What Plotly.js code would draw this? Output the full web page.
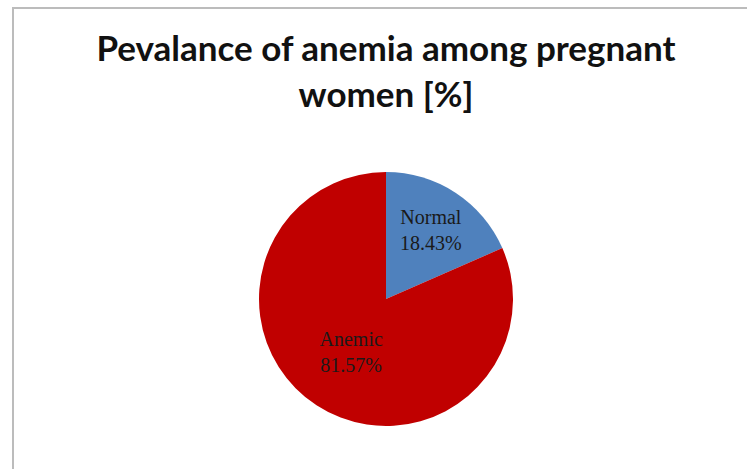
<!DOCTYPE html>
<html>
<head>
<meta charset="utf-8">
<script src="https://cdn.plot.ly/plotly-3.0.1.min.js"></script>
<style>
html,body{margin:0;padding:0;background:#fff;}
#chart{width:747px;height:469px;}
</style>
</head>
<body>
<div id="chart"></div>
<script>
const categories = ["Normal", "Anemic"];
const values = [18.43, 81.57];
const colors = ["#4F81BD", "#C00000"];
const titleText = "Pevalance of anemia among pregnant<br>women [%]";

const W = 747, H = 469;
const cx = 386, cy = 299, r = 127;

const trace = {
  type: "pie",
  labels: categories,
  values: values,
  sort: false,
  direction: "clockwise",
  rotation: 0,
  marker: {colors: colors, line: {width: 0}},
  texttemplate: "%{label}<br>%{percent:.2%}",
  textposition: "inside",
  insidetextorientation: "horizontal",
  textfont: {family: "Liberation Serif, Times New Roman, serif", size: 20, color: "#1a1a1a"},
  hoverinfo: "none",
  domain: {
    x: [(cx - r) / W, (cx + r) / W],
    y: [(H - cy - r) / H, (H - cy + r) / H]
  }
};

const layout = {
  width: W, height: H,
  margin: {l: 0, r: 0, t: 0, b: 0},
  paper_bgcolor: "#fff",
  showlegend: false,
  title: {
    text: titleText,
    font: {family: "Lato, Open Sans, sans-serif", size: 35, color: "#111", weight: 700},
    x: 386 / W, xref: "container", xanchor: "center",
    y: 1 - 61 / H, yref: "container", yanchor: "top"
  },
  shapes: [{
    type: "rect", xref: "paper", yref: "paper",
    x0: 13 / W, x1: 1.05, y0: -0.05, y1: 1 - 8 / H,
    line: {color: "#bcbcbc", width: 2}
  }]
};

Plotly.newPlot("chart", [trace], layout, {displayModeBar: false, staticPlot: true});
</script>
</body>
</html>
